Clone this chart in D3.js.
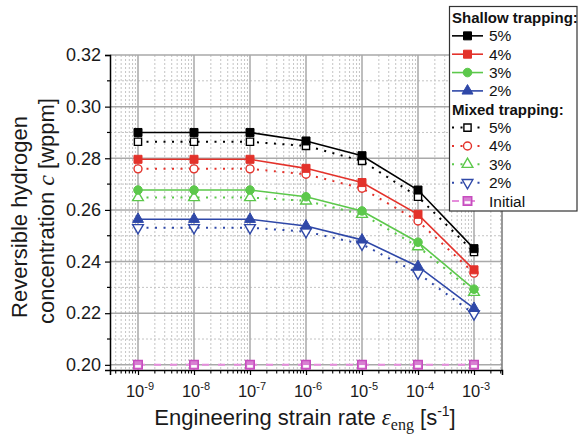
<!DOCTYPE html>
<html><head><meta charset="utf-8">
<script src="https://cdn.jsdelivr.net/npm/d3@7"></script>
<style>
html,body{margin:0;padding:0;background:#fff;}
svg{display:block;}
text{font-family:Arial,"Liberation Sans",sans-serif;}
</style></head>
<body>
<script>
// ---- data ----
const rateExponents = [-9, -8, -7, -6, -5, -4, -3];
const shallow5 = [0.2900, 0.2900, 0.2900, 0.2867, 0.2810, 0.2677, 0.2450];
const shallow4 = [0.2796, 0.2796, 0.2796, 0.2761, 0.2706, 0.2583, 0.2368];
const shallow3 = [0.2677, 0.2677, 0.2677, 0.2651, 0.2596, 0.2475, 0.2293];
const shallow2 = [0.2564, 0.2564, 0.2564, 0.2538, 0.2484, 0.2381, 0.2219];
const mixed5   = [0.2864, 0.2864, 0.2864, 0.2848, 0.2790, 0.2651, 0.2437];
const mixed4   = [0.2759, 0.2759, 0.2759, 0.2738, 0.2684, 0.2557, 0.2355];
const mixed3   = [0.2648, 0.2648, 0.2648, 0.2635, 0.2583, 0.2458, 0.2281];
const mixed2   = [0.2531, 0.2531, 0.2531, 0.2516, 0.2467, 0.2355, 0.2197];
const initial  = [0.2000, 0.2000, 0.2000, 0.2000, 0.2000, 0.2000, 0.2000];
const yTicks = [0.20, 0.22, 0.24, 0.26, 0.28, 0.30, 0.32];
const yMinorTicks = [0.21, 0.23, 0.25, 0.27, 0.29, 0.31];
const seriesLabels = ["5%", "4%", "3%", "2%"];

const W = 579, H = 436;
const svg = d3.select("body").append("svg").attr("width", W).attr("height", H);

const x = d3.scaleLog().domain([Math.pow(10, -9.5), Math.pow(10, -2.5)]).range([110, 502]);
const y = d3.scaleLinear().domain([0.198, 0.32]).range([370, 55]);

const C = {black:"#000000", red:"#e3322b", green:"#5cc84b", blue:"#2f48a8", mag:"#c74cbf", magLine:"#e58ddb"};

// grid
const majorX = rateExponents.map(e => Math.pow(10, e));
const minorX = [];
for (let d = -10; d <= -3; d++) for (let k = 2; k <= 9; k++) {
  const v = k * Math.pow(10, d);
  if (v > x.domain()[0] && v < x.domain()[1]) minorX.push(v);
}
const grid = svg.append("g");
grid.selectAll(".mxg").data(minorX).join("line")
  .attr("x1", d => x(d)).attr("x2", d => x(d)).attr("y1", y(0.32)).attr("y2", y(0.198))
  .attr("stroke", "#c4c4c4").attr("stroke-width", 1).attr("stroke-dasharray", "2,2");
grid.selectAll(".myg").data(yMinorTicks).join("line")
  .attr("x1", 110).attr("x2", 502).attr("y1", d => y(d)).attr("y2", d => y(d))
  .attr("stroke", "#c4c4c4").attr("stroke-width", 1).attr("stroke-dasharray", "2,2");
grid.selectAll(".Mxg").data(majorX).join("line")
  .attr("x1", d => x(d)).attr("x2", d => x(d)).attr("y1", y(0.32)).attr("y2", y(0.198))
  .attr("stroke", "#a9a9a9").attr("stroke-width", 1.5);
grid.selectAll(".Myg").data(yTicks).join("line")
  .attr("x1", 110).attr("x2", 502).attr("y1", d => y(d)).attr("y2", d => y(d))
  .attr("stroke", "#a9a9a9").attr("stroke-width", 1.5);

// frame
svg.append("line").attr("x1", 502).attr("x2", 502).attr("y1", 55).attr("y2", 370).attr("stroke", "#777").attr("stroke-width", 1.5);

// axes
const yAxis = d3.axisLeft(y).tickValues(yTicks).tickFormat(d3.format(".2f")).tickSize(5).tickPadding(4);
const gy = svg.append("g").attr("transform", "translate(110,0)").call(yAxis);
gy.select(".domain").attr("stroke", "#000").attr("stroke-width", 1.5);
gy.selectAll(".tick line").attr("stroke-width", 1.2);
gy.selectAll(".tick text").attr("font-size", 18).attr("fill", "#1a1a1a").attr("font-family", "Arial, 'Liberation Sans', sans-serif");
svg.append("g").selectAll("line").data(yMinorTicks).join("line")
  .attr("x1", 107).attr("x2", 110).attr("y1", d => y(d)).attr("y2", d => y(d)).attr("stroke", "#000").attr("stroke-width", 1.2);

const xAxis = d3.axisBottom(x).tickValues(majorX).tickFormat("").tickSize(5);
const gx = svg.append("g").attr("transform", "translate(0,370)").call(xAxis);
gx.select(".domain").attr("stroke", "#000").attr("stroke-width", 1.5);
gx.selectAll(".tick line").attr("stroke-width", 1.2);
svg.append("g").selectAll("line").data(minorX).join("line")
  .attr("x1", d => x(d)).attr("x2", d => x(d)).attr("y1", 370).attr("y2", 373.5).attr("stroke", "#000").attr("stroke-width", 1.1);
const xl = svg.append("g").selectAll("text").data(rateExponents).join("text")
  .attr("x", e => x(Math.pow(10, e)) + 2).attr("y", 397).attr("text-anchor", "middle")
  .attr("font-size", 16.5).attr("fill", "#1a1a1a");
xl.append("tspan").text("10");
xl.append("tspan").attr("font-size", 11).attr("dy", -7).text(e => String(e));

// axis titles
const serif = "'Liberation Serif','Times New Roman',serif";
const xt = svg.append("text").attr("x", 305).attr("y", 425).attr("text-anchor", "middle").attr("font-size", 22).attr("fill", "#1a1a1a");
xt.append("tspan").text("Engineering strain rate ");
xt.append("tspan").attr("font-family", serif).attr("font-style", "italic").attr("font-size", 23).text("ε");
xt.append("tspan").attr("font-family", serif).attr("font-size", 16).attr("dy", 5).text("eng");
xt.append("tspan").attr("dy", -5).text(" [s");
xt.append("tspan").attr("font-size", 14).attr("dy", -9).text("-1");
xt.append("tspan").attr("dy", 9).text("]");

svg.append("text").attr("transform", "translate(27,217) rotate(-90)").attr("text-anchor", "middle").attr("font-size", 22).attr("fill", "#1a1a1a").text("Reversible hydrogen");
const yt2 = svg.append("text").attr("transform", "translate(54,211) rotate(-90)").attr("text-anchor", "middle").attr("font-size", 22).attr("fill", "#1a1a1a");
yt2.append("tspan").text("concentration ");
yt2.append("tspan").attr("font-family", serif).attr("font-style", "italic").attr("font-size", 24).text("c");
yt2.append("tspan").text(" [wppm]");

// series
const shallow = [
  {vals: shallow5, color: C.black, sym: d3.symbolSquare, size: 64},
  {vals: shallow4, color: C.red, sym: d3.symbolSquare, size: 64},
  {vals: shallow3, color: C.green, sym: d3.symbolCircle, size: 58},
  {vals: shallow2, color: C.blue, sym: d3.symbolTriangle, size: 52}
];
const mixed = [
  {vals: mixed5, color: C.black, sym: d3.symbolSquare, size: 52, rot: 0},
  {vals: mixed4, color: C.red, sym: d3.symbolCircle, size: 50, rot: 0},
  {vals: mixed3, color: C.green, sym: d3.symbolTriangle, size: 50, rot: 0},
  {vals: mixed2, color: C.blue, sym: d3.symbolTriangle, size: 50, rot: 180}
];
const line = d3.line().x((v, i) => x(Math.pow(10, rateExponents[i]))).y(v => y(v));
const plot = svg.append("g");

plot.append("path").attr("d", line(initial)).attr("fill", "none").attr("stroke", C.magLine).attr("stroke-width", 2).attr("stroke-dasharray", "7,9");
mixed.forEach(s => plot.append("path").attr("d", line(s.vals)).attr("fill", "none").attr("stroke", s.color).attr("stroke-width", 2).attr("stroke-dasharray", "2,6.5"));
shallow.forEach(s => plot.append("path").attr("d", line(s.vals)).attr("fill", "none").attr("stroke", s.color).attr("stroke-width", 1.6));

function initialMarker(g, cx, cy) {
  g.append("path").attr("transform", `translate(${cx},${cy})`).attr("d", d3.symbol(d3.symbolSquare, 72)())
    .attr("fill", "#d880d2").attr("stroke", C.mag).attr("stroke-width", 1.5);
  g.append("path").attr("d", d3.symbol(d3.symbolSquare, 10)())
    .attr("fill", "#ffffff").attr("transform", `translate(${cx},${cy + 1.5}) scale(1.8,0.8)`);
}
initial.forEach((v, i) => initialMarker(plot, x(Math.pow(10, rateExponents[i])), y(v)));

mixed.forEach(s => {
  plot.selectAll(null).data(s.vals).join("path")
    .attr("transform", (v, i) => `translate(${x(Math.pow(10, rateExponents[i]))},${y(v)}) rotate(${s.rot})`)
    .attr("d", d3.symbol(s.sym, s.size)()).attr("fill", "#fff").attr("stroke", s.color).attr("stroke-width", 1.4);
});
shallow.forEach(s => {
  plot.selectAll(null).data(s.vals).join("path")
    .attr("transform", (v, i) => `translate(${x(Math.pow(10, rateExponents[i]))},${y(v)})`)
    .attr("d", d3.symbol(s.sym, s.size)()).attr("fill", s.color).attr("stroke", s.color).attr("stroke-width", 1);
});

// legend
const lg = svg.append("g");
lg.append("rect").attr("x", 449.5).attr("y", 6.5).attr("width", 127.5).attr("height", 204.5).attr("fill", "#fff").attr("stroke", "#333").attr("stroke-width", 1.2);
const rowY = i => 17.5 + i * 18.35;
lg.append("text").attr("x", 452).attr("y", rowY(0) + 5.5).attr("font-size", 15).attr("font-weight", "bold").attr("fill", "#111").text("Shallow trapping:");
lg.append("text").attr("x", 452).attr("y", rowY(5) + 5.5).attr("font-size", 15).attr("font-weight", "bold").attr("fill", "#111").text("Mixed trapping:");
shallow.forEach((s, i) => {
  const yy = rowY(1 + i);
  lg.append("line").attr("x1", 452).attr("x2", 483).attr("y1", yy).attr("y2", yy).attr("stroke", s.color).attr("stroke-width", 1.6);
  lg.append("path").attr("transform", `translate(467.5,${yy})`).attr("d", d3.symbol(s.sym, s.size)()).attr("fill", s.color).attr("stroke", s.color);
  lg.append("text").attr("x", 489).attr("y", yy + 5.5).attr("font-size", 15.5).attr("fill", "#111").text(seriesLabels[i]);
});
mixed.forEach((s, i) => {
  const yy = rowY(6 + i);
  lg.append("line").attr("x1", 452).attr("x2", 483).attr("y1", yy).attr("y2", yy).attr("stroke", s.color).attr("stroke-width", 2).attr("stroke-dasharray", "2,6.5");
  lg.append("path").attr("transform", `translate(467.5,${yy}) rotate(${s.rot})`).attr("d", d3.symbol(s.sym, s.size)()).attr("fill", "#fff").attr("stroke", s.color).attr("stroke-width", 1.4);
  lg.append("text").attr("x", 489).attr("y", yy + 5.5).attr("font-size", 15.5).attr("fill", "#111").text(seriesLabels[i]);
});
{
  const yy = rowY(10);
  lg.append("line").attr("x1", 452).attr("x2", 483).attr("y1", yy).attr("y2", yy).attr("stroke", C.magLine).attr("stroke-width", 2).attr("stroke-dasharray", "7,9");
  initialMarker(lg, 467.5, yy);
  lg.append("text").attr("x", 489).attr("y", yy + 5.5).attr("font-size", 15.5).attr("fill", "#111").text("Initial");
}
</script>
</body></html>
